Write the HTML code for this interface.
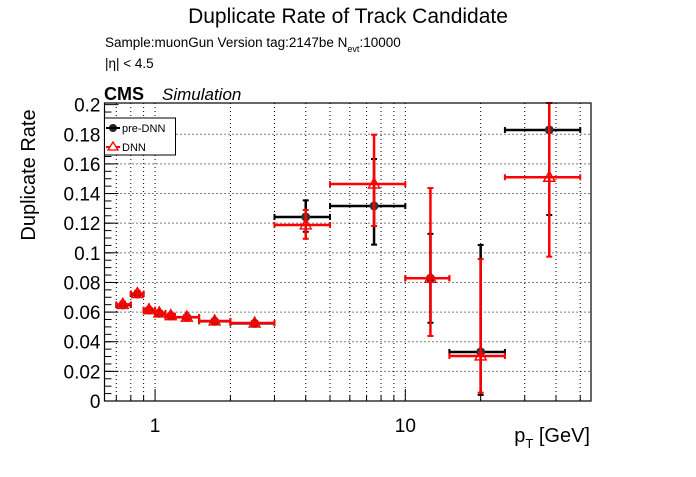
<!DOCTYPE html>
<html><head><meta charset="utf-8"><style>
body{margin:0;background:#fff;}
svg text{font-family:"Liberation Sans",sans-serif;}
</style></head><body>
<svg id="chart" width="696" height="472" viewBox="0 0 696 472" xmlns="http://www.w3.org/2000/svg">
<rect width="696" height="472" fill="#fff"/>
<text x="348" y="23" font-size="21" text-anchor="middle">Duplicate Rate of Track Candidate</text>
<text x="105" y="47" font-size="13.5">Sample:muonGun   Version tag:2147be  N<tspan font-size="9" dy="5">evt</tspan><tspan dy="-5">:10000</tspan></text>
<text x="105" y="68" font-size="13.5">|η| &lt; 4.5</text>
<text x="104" y="100" font-size="18" font-weight="bold">CMS</text>
<text x="162" y="100" font-size="17" font-style="italic">Simulation</text>
<text transform="translate(35,175) rotate(-90)" font-size="20" text-anchor="middle">Duplicate Rate</text>
<text x="590" y="442" font-size="20" text-anchor="end">p<tspan font-size="13" dy="6">T</tspan><tspan dy="-6"> [GeV]</tspan></text>
<g id="grid"></g><g id="axes"></g><g id="marks"></g>
<rect x="104.5" y="103" width="486.5" height="298" fill="none" stroke="#000" stroke-width="1.2"/>
<g>
<rect x="104.5" y="118" width="71" height="37" fill="#fff" stroke="#000" stroke-width="1"/>
<circle cx="113" cy="128" r="4" fill="#222"/><line x1="106" y1="128" x2="120" y2="128" stroke="#000" stroke-width="2"/>
<text x="122" y="132" font-size="11">pre-DNN</text>
<line x1="106" y1="147" x2="120" y2="147" stroke="red" stroke-width="2"/><polygon points="113,142 118,150 108,150" fill="#fff" stroke="red" stroke-width="1.3"/>
<text x="122" y="151" font-size="11">DNN</text>
</g>
</svg>
<script>
const binLow=[0.7,0.8,0.9,1.0,1.1,1.2,1.5,2,3,5,10,15,25];
const binHigh=[0.8,0.9,1.0,1.1,1.2,1.5,2,3,5,10,15,25,50];
const binCenter=[0.743,0.85,0.946,1.04,1.155,1.34,1.73,2.5,4,7.5,12.6,20,37.6];
const preVal=[0.0648,0.0722,0.0614,0.0592,0.0574,0.0565,0.0538,0.0524,0.1242,0.1316,0.0828,0.0331,0.1829];
const preErrUp=[0.002,0.002,0.0015,0.0015,0.0015,0.0015,0.0012,0.0012,0.0112,0.0317,0.03,0.0722,0.03];
const preErrDn=[0.002,0.002,0.0015,0.0015,0.0015,0.0015,0.0012,0.0012,0.01,0.0261,0.03,0.029,0.0574];
const dnnVal=[0.0652,0.0725,0.0616,0.0594,0.0576,0.0566,0.054,0.0526,0.1188,0.1464,0.0828,0.0304,0.151];
const dnnErrUp=[0.002,0.002,0.0015,0.0015,0.0015,0.0015,0.0012,0.0012,0.0101,0.0333,0.0609,0.0654,0.0503];
const dnnErrDn=[0.002,0.002,0.0015,0.0015,0.0015,0.0015,0.0012,0.0012,0.0093,0.0283,0.0389,0.0248,0.0536];
const xTickLabels=["1","10"];
const xTickValues=[1,10];
const yTickValues=[0,0.02,0.04,0.06,0.08,0.1,0.12,0.14,0.16,0.18,0.2];
const yTickLabels=["0","0.02","0.04","0.06","0.08","0.1","0.12","0.14","0.16","0.18","0.2"];
const L=104.5,R=591,T=103,B=401;
const xMin=0.628,xMax=55.2,yMin=0,yMax=0.2011;
const xs=v=>L+(Math.log10(v)-Math.log10(xMin))/(Math.log10(xMax)-Math.log10(xMin))*(R-L);
const ys=v=>B-(v-yMin)/(yMax-yMin)*(B-T);
const NS="http://www.w3.org/2000/svg";
function mk(p,t,a){const e=document.createElementNS(NS,t);for(const k in a)e.setAttribute(k,a[k]);p.appendChild(e);return e;}
const grid=document.getElementById('grid'),axes=document.getElementById('axes'),marks=document.getElementById('marks');
const minors=[0.7,0.8,0.9,1,2,3,4,5,6,7,8,9,10,20,30,40,50];
minors.forEach(v=>{const x=xs(v);
 const g=mk(grid,'line',{x1:x,x2:x,y1:T,y2:B,stroke:'#000','stroke-width':1,'stroke-dasharray':'1,3'});
 
 const major=(v===1||v===10);
 const t=mk(axes,'line',{x1:x,x2:x,y1:B,y2:B-(major?12:6),stroke:'#000'});
 });
xTickValues.forEach((v,i)=>{const t=mk(axes,'text',{x:xs(v),y:432,'font-size':19,'text-anchor':'middle'});t.textContent=xTickLabels[i];
 });
yTickValues.forEach((v,i)=>{const y=ys(v);
 if(i>0&&i<yTickValues.length-1){const g=mk(grid,'line',{x1:L,x2:R,y1:y,y2:y,stroke:'#000','stroke-width':1,'stroke-dasharray':'1,3'});
 }
 const t=mk(axes,'line',{x1:L,x2:L+14,y1:y,y2:y,stroke:'#000'});
 const lb=mk(axes,'text',{x:L-4,y:y+7,'font-size':19,'text-anchor':'end'});lb.textContent=yTickLabels[i];
 });
for(let v=0.005;v<0.2;v+=0.005){const y=ys(v);mk(axes,'line',{x1:L,x2:L+7,y1:y,y2:y,stroke:'#000'});}
function series(vals,up,dn,col,name){
 vals.forEach((v,i)=>{const g=mk(marks,'g',{});
  
  const x0=xs(binLow[i]),x1=xs(binHigh[i]),xc=xs(binCenter[i]),y=ys(v);
  const yt=Math.max(T,ys(v+up[i])),yb=Math.min(B,ys(v-dn[i]));
  mk(g,'line',{x1:x0,x2:x1,y1:y,y2:y,stroke:col,'stroke-width':2.5});
  mk(g,'line',{x1:x0,x2:x0,y1:y-3,y2:y+3,stroke:col,'stroke-width':2});
  mk(g,'line',{x1:x1,x2:x1,y1:y-3,y2:y+3,stroke:col,'stroke-width':2});
  mk(g,'line',{x1:xc,x2:xc,y1:yt,y2:yb,stroke:col,'stroke-width':2.5});
  mk(g,'line',{x1:xc-3,x2:xc+3,y1:yt,y2:yt,stroke:col,'stroke-width':2});
  mk(g,'line',{x1:xc-3,x2:xc+3,y1:yb,y2:yb,stroke:col,'stroke-width':2});
  if(name==='pre-dnn')mk(g,'circle',{cx:xc,cy:y,r:4.5,fill:'#333'});
  else mk(g,'polygon',{points:`${xc},${y-6} ${xc+5.5},${y+4} ${xc-5.5},${y+4}`,fill:'none',stroke:'red','stroke-width':1.4});
 });}
series(preVal,preErrUp,preErrDn,'#000','pre-dnn');
series(dnnVal,dnnErrUp,dnnErrDn,'red','dnn');
</script>
</body></html>
